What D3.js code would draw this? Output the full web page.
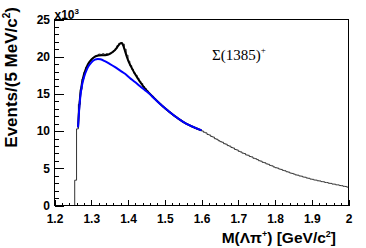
<!DOCTYPE html>
<html>
<head>
<meta charset="utf-8">
<script src="https://cdn.jsdelivr.net/npm/d3@7"></script>
<style>
  body { margin: 0; background: #fff; }
  svg { display: block; }
  .axis text { font: bold 12px "Liberation Sans", Arial, sans-serif; fill: #000; }
  .axis line { stroke: #000; shape-rendering: crispEdges; }
  .title { font: bold 15.5px "Liberation Sans", Arial, sans-serif; fill: #000; }
</style>
</head>
<body>
<script>
// 5 MeV bins from the Lambda pi threshold, counts in units of 10^3
const binStart = 1.255;
const binWidth = 0.005;
const counts = [
    3.4, 10.3, 13.6, 15.6, 17.0, 17.9, 18.6, 19.0, 19.4, 19.7,
    19.9, 20.1, 20.2, 20.35, 20.3, 20.4, 20.3, 20.4, 20.35, 20.5,
    20.6, 20.8, 21.1, 21.5, 21.8, 21.9, 21.7, 21.0, 20.2, 19.4,
    18.8, 18.3, 17.8, 17.5, 17.1, 16.7, 16.4, 16.0, 15.7, 15.4,
    15.1, 14.85, 14.6, 14.35, 14.1, 13.85, 13.65, 13.4, 13.2, 13.0,
    12.8, 12.6, 12.4, 12.2, 12.0, 11.85, 11.65, 11.5, 11.3, 11.15,
    11.0, 10.9, 10.75, 10.6, 10.5, 10.4, 10.3, 10.2, 10.1,
    10.02, 9.85, 9.76, 9.55, 9.47, 9.28, 9.20, 8.98, 8.90, 8.71,
    8.58, 8.50, 8.31, 8.24, 8.05, 7.98, 7.80, 7.72, 7.53, 7.46,
    7.28, 7.20, 7.04, 6.98, 6.80, 6.75, 6.58, 6.53, 6.35, 6.29,
    6.17, 6.02, 5.96, 5.80, 5.75, 5.60, 5.54, 5.39, 5.33, 5.18,
    5.08, 5.03, 4.90, 4.85, 4.72, 4.67, 4.54, 4.49, 4.36, 4.31,
    4.22, 4.11, 4.08, 3.97, 3.94, 3.83, 3.80, 3.69, 3.66, 3.55,
    3.52, 3.43, 3.41, 3.32, 3.30, 3.21, 3.19, 3.10, 3.08, 2.99,
    2.97, 2.88, 2.87, 2.78, 2.77, 2.68, 2.66, 2.58, 2.56, 2.47
];

// fit curves: [mass, events/10^3]
const totalFit = [
    [1.264, 10.5], [1.267, 13.0], [1.270, 14.8], [1.275, 16.5], [1.280, 17.6],
    [1.290, 18.9], [1.300, 19.6], [1.310, 20.0], [1.320, 20.15], [1.335, 20.2],
    [1.345, 20.25], [1.352, 20.4], [1.360, 20.7], [1.368, 21.1], [1.376, 21.65],
    [1.382, 21.85], [1.386, 21.6], [1.391, 20.9], [1.396, 20.1], [1.402, 19.3],
    [1.410, 18.5], [1.420, 17.6], [1.433, 16.6], [1.450, 15.5], [1.470, 14.5],
    [1.500, 13.1], [1.550, 11.25], [1.600, 10.1]
];
const bkgFit = [
    [1.264, 10.5], [1.267, 12.8], [1.270, 14.5], [1.275, 16.2], [1.280, 17.2],
    [1.290, 18.5], [1.300, 19.2], [1.310, 19.6], [1.318, 19.7], [1.325, 19.65],
    [1.337, 19.4], [1.350, 19.05], [1.365, 18.6], [1.380, 18.1], [1.392, 17.7],
    [1.405, 17.15], [1.419, 16.6], [1.432, 16.05], [1.446, 15.5], [1.460, 14.95],
    [1.470, 14.45], [1.500, 13.1], [1.550, 11.25], [1.600, 10.1]
];

const xTicks = [1.2, 1.3, 1.4, 1.5, 1.6, 1.7, 1.8, 1.9, 2.0];
const yTicks = [0, 5, 10, 15, 20, 25];

const width = 366, height = 248;

const x = d3.scaleLinear().domain([1.2, 2.0]).range([54.5, 348.5]);
const y = d3.scaleLinear().domain([0, 25]).range([205.5, 19.5]);

const svg = d3.select("body").append("svg")
    .attr("width", width)
    .attr("height", height);

svg.append("defs").append("clipPath")
    .attr("id", "frame")
  .append("rect")
    .attr("x", x(1.2))
    .attr("y", y(25))
    .attr("width", x(2.0) - x(1.2))
    .attr("height", y(0) - y(25));

// histogram outline
const histPoints = [[binStart, 0]].concat(
    counts.map((c, i) => [binStart + i * binWidth, c]),
    [[2.0, counts[counts.length - 1]]]
);

const plot = svg.append("g").attr("clip-path", "url(#frame)");

plot.append("path")
    .datum(histPoints)
    .attr("fill", "none")
    .attr("stroke", "#333")
    .attr("stroke-width", 1)
    .attr("d", d3.line()
        .x(d => x(d[0]))
        .y(d => y(d[1]))
        .curve(d3.curveStepAfter));

const fitLine = d3.line()
    .x(d => x(d[0]))
    .y(d => y(d[1]))
    .curve(d3.curveMonotoneX);

plot.append("path")
    .datum(totalFit)
    .attr("fill", "none")
    .attr("stroke", "#000")
    .attr("stroke-width", 2)
    .attr("d", fitLine);

plot.append("path")
    .datum(bkgFit)
    .attr("fill", "none")
    .attr("stroke", "#0000ff")
    .attr("stroke-width", 2)
    .attr("d", fitLine);

// axes, ROOT style: ticks point into the frame
svg.append("g")
    .attr("class", "axis")
    .attr("transform", "translate(0," + y(0) + ")")
    .call(d3.axisBottom(x).ticks(40).tickSize(-3).tickFormat(""))
    .call(g => g.select(".domain").remove());

svg.append("g")
    .attr("class", "axis")
    .attr("transform", "translate(0," + y(0) + ")")
    .call(d3.axisBottom(x).tickValues(xTicks).tickSize(-6).tickPadding(9)
        .tickFormat(d3.format("~g")))
    .call(g => g.select(".domain").remove());

svg.append("g")
    .attr("class", "axis")
    .attr("transform", "translate(" + x(1.2) + ",0)")
    .call(d3.axisLeft(y).ticks(25).tickSize(-4.5).tickFormat(""))
    .call(g => g.select(".domain").remove());

svg.append("g")
    .attr("class", "axis")
    .attr("transform", "translate(" + x(1.2) + ",0)")
    .call(d3.axisLeft(y).tickValues(yTicks).tickSize(-9).tickPadding(4.5))
    .call(g => g.select(".domain").remove());

svg.append("rect")
    .attr("x", x(1.2))
    .attr("y", y(25))
    .attr("width", x(2.0) - x(1.2))
    .attr("height", y(0) - y(25))
    .attr("fill", "none")
    .attr("stroke", "#000")
    .attr("stroke-width", 1);

// exponent marker
const expo = svg.append("text")
    .attr("x", x(1.2))
    .attr("y", 19)
    .style("font", 'bold 12px "Liberation Sans", Arial, sans-serif');
expo.append("tspan").text("x10");
expo.append("tspan").attr("dy", -5).style("font-size", "8px").text("3");

// axis titles
const xTitle = svg.append("text")
    .attr("class", "title")
    .attr("x", 336)
    .attr("y", 243)
    .attr("text-anchor", "end");
xTitle.append("tspan").text("M(Λπ");
xTitle.append("tspan").attr("dy", -6).style("font-size", "9px").text("+");
xTitle.append("tspan").attr("dy", 6).text(") [GeV/c");
xTitle.append("tspan").attr("dy", -6).style("font-size", "9px").text("2");
xTitle.append("tspan").attr("dy", 6).text("]");

const yTitle = svg.append("text")
    .attr("class", "title")
    .style("font-size", "17px")
    .attr("transform", "translate(16.5,7) rotate(-90)")
    .attr("text-anchor", "end");
yTitle.append("tspan").text("Events/(5 MeV/c");
yTitle.append("tspan").attr("dy", -7).style("font-size", "10px").text("2");
yTitle.append("tspan").attr("dy", 7).text(")");

// resonance label
const label = svg.append("text")
    .attr("x", 212)
    .attr("y", 59.5)
    .style("font", '15px "Liberation Serif", "Times New Roman", serif');
label.append("tspan").text("Σ(1385)");
label.append("tspan").attr("dy", -7).style("font-size", "9px").text("+");
</script>
</body>
</html>
